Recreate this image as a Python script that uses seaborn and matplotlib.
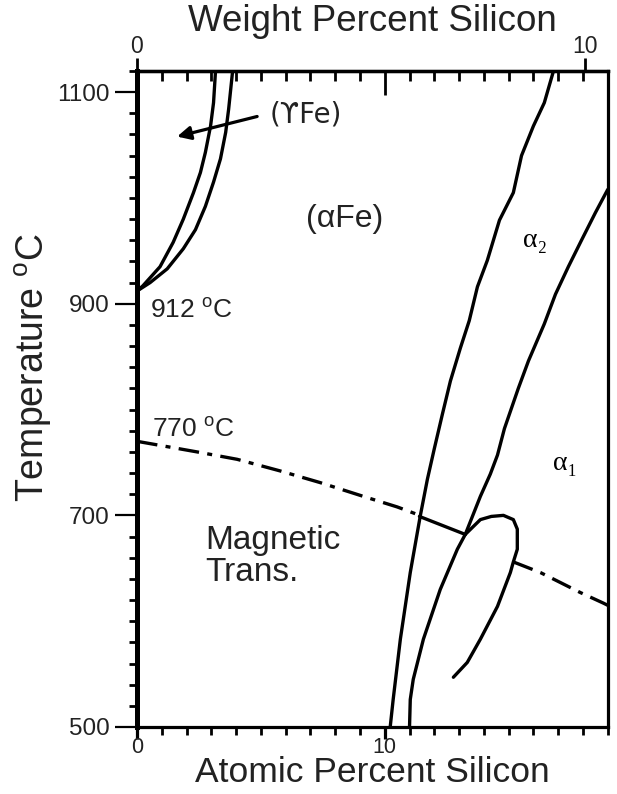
import numpy as np
import matplotlib
matplotlib.use("Agg")
import matplotlib.pyplot as plt
import seaborn as sns
from matplotlib.ticker import MultipleLocator, NullLocator

# ---------------- data (atomic % Si, temperature degC) ----------------
gamma_inner_x = [0, 0.24, 0.93, 1.46, 1.87, 2.28, 2.56, 2.76, 2.97, 3.09, 3.17]
gamma_inner_T = [912, 917, 935, 958, 980, 1005, 1024, 1043, 1068, 1090, 1120]

gamma_outer_x = [0, 0.53, 1.22, 1.87, 2.36, 2.76, 3.09, 3.37, 3.58, 3.70, 3.86]
gamma_outer_T = [912, 920, 933, 952, 970, 992, 1015, 1037, 1062, 1084, 1120]

order_left_x = [16.81, 16.44, 16.0, 15.52, 15.19, 14.63, 14.14, 13.74, 13.41, 13.05,
                12.65, 12.32, 12.0, 11.72, 11.43, 11.03, 10.63, 10.34, 10.22]
order_left_T = [1120, 1090, 1068, 1040, 1005, 979, 941, 916, 884, 858,
                827, 795, 763, 734, 699, 646, 583, 526, 500]

order_right_x = [19.0, 18.5, 17.94, 17.41, 16.89, 16.44, 15.8, 15.39, 14.83, 14.55,
                 14.26, 13.86, 13.25, 12.93, 12.24, 11.56, 11.15, 11.03, 11.0]
order_right_T = [1008, 986, 960, 935, 909, 881, 846, 820, 782, 757,
                 739, 718, 682, 668, 630, 583, 545, 526, 500]

loop_x = [13.25, 13.86, 14.3, 14.79, 15.19, 15.35, 15.35, 15.19, 15.07, 14.55, 13.86, 13.33, 12.77]
loop_T = [682, 696, 699, 700, 696, 687, 668, 656, 646, 614, 583, 561, 547]

mag_left_x = [0, 2.42, 4.04, 5.78, 7.39, 9.13, 10.5, 11.3]
mag_left_T = [770, 760, 753, 742, 731, 718, 708, 701]

mag_tie_x = [11.4, 13.25]
mag_tie_T = [699, 682]

mag_right_x = [15.19, 16.28, 17.9, 18.83, 19.0]
mag_right_T = [656, 646, 627, 617, 615]

bottom_ticks = [0, 10]
top_ticks_wt = [0, 10]
temp_ticks = [500, 700, 900, 1100]

# ---------------- style ----------------
sns.set_theme(style="white")
plt.rcParams["font.family"] = ["Liberation Sans", "DejaVu Sans"]
plt.rcParams["mathtext.fontset"] = "custom"
plt.rcParams["mathtext.rm"] = "Liberation Sans"
plt.rcParams["mathtext.it"] = "Liberation Sans:italic"

TXT = "#222222"

fig = plt.figure(figsize=(6.17, 7.94), dpi=100)
ax = fig.add_axes([0.222, 0.0844, 0.763, 0.8262])

LW = 2.4


def draw(x, T, **kw):
    sns.lineplot(x=x, y=T, sort=False, estimator=None, ax=ax,
                 color="black", linewidth=LW, **kw)


draw(gamma_inner_x, gamma_inner_T)
draw(gamma_outer_x, gamma_outer_T)
draw(order_left_x, order_left_T)
draw(order_right_x, order_right_T)
draw(loop_x, loop_T)
draw(mag_tie_x, mag_tie_T)
dashdot = (0, (6.2, 2.5, 1.5, 2.5))
draw(mag_left_x, mag_left_T, linestyle=dashdot)
draw(mag_right_x, mag_right_T, linestyle=dashdot)

ax.set_xlim(0, 19)
ax.set_ylim(500, 1120)

# bottom axis (atomic %)
ax.set_xticks(bottom_ticks)
ax.xaxis.set_minor_locator(MultipleLocator(1))
ax.tick_params(axis="x", which="major", direction="out", length=8.5, width=2.3,
               labelsize=15.5, labelcolor=TXT, pad=-1.5, bottom=True, color="black")
ax.tick_params(axis="x", which="minor", direction="out", length=5.5, width=2,
               bottom=True, color="black")

# left axis
ax.set_yticks(temp_ticks)
ax.yaxis.set_minor_locator(MultipleLocator(20))
ax.tick_params(axis="y", which="major", direction="out", length=16, width=1.6,
               labelsize=17.5, labelcolor=TXT, pad=3.5, left=True, color="black")
ax.tick_params(axis="y", which="minor", direction="out", length=5.5, width=2,
               left=True, color="black")

for name, sp in ax.spines.items():
    sp.set_color("black")
    sp.set_linewidth(2.3)
ax.spines["left"].set_linewidth(3.6)


# top axis (weight %)
M_SI, M_FE = 28.0855, 55.845


def at2wt(a):
    a = np.asarray(a, dtype=float)
    with np.errstate(divide="ignore", invalid="ignore"):
        return 100 * a * M_SI / (a * M_SI + (100 - a) * M_FE)


def wt2at(w):
    w = np.asarray(w, dtype=float)
    with np.errstate(divide="ignore", invalid="ignore"):
        return 100 * (w / M_SI) / (w / M_SI + (100 - w) / M_FE)


sec_at = ax.secondary_xaxis("top")
sec_at.set_xticks([10])
sec_at.xaxis.set_minor_locator(MultipleLocator(1))
sec_at.tick_params(which="major", direction="in", length=17, width=2, labeltop=False,
                   color="black")
sec_at.tick_params(which="minor", direction="in", length=7, width=2, color="black")
sec_at.spines["top"].set_linewidth(2.3)
sec_at.spines["top"].set_color("black")

sec_wt = ax.secondary_xaxis("top", functions=(at2wt, wt2at))
sec_wt.set_xticks(top_ticks_wt)
sec_wt.xaxis.set_minor_locator(NullLocator())
sec_wt.tick_params(which="major", direction="out", length=9.5, width=2,
                   labelsize=16.5, labelcolor=TXT, pad=0, color="black")
sec_wt.spines["top"].set_linewidth(2.3)
sec_wt.spines["top"].set_color("black")
sec_wt.set_xlabel("Weight Percent Silicon", fontsize=26.5, color=TXT, labelpad=3)

ax.set_xlabel("Atomic Percent Silicon", fontsize=25.5, color=TXT, labelpad=-1.5)
ax.set_ylabel("Temperature $^{\\rm o}$C", fontsize=27, color=TXT)
ax.yaxis.set_label_coords(-0.176, 0.547)

# annotations
ax.text(6.83, 1079, "(ϒFe)", fontsize=20, color=TXT, ha="center", va="center",
        family=["DejaVu Sans"])
ax.text(8.4, 980, "(αFe)", fontsize=23, color=TXT, ha="center", va="center")
ax.text(0.53, 893, "912 $^{\\rm o}$C", fontsize=19, color=TXT, ha="left", va="center")
ax.text(0.6, 781, "770 $^{\\rm o}$C", fontsize=19, color=TXT, ha="left", va="center")
ax.text(2.75, 661, "Magnetic\nTrans.", fontsize=24, color=TXT, ha="left", va="center",
        linespacing=1.05)
ax.text(15.56, 960, "α₂", fontsize=20, color="black", ha="left", va="center",
        family=["Liberation Serif", "DejaVu Serif"])
ax.text(16.8, 749, "α₁", fontsize=20, color="black", ha="left", va="center",
        family=["Liberation Serif", "DejaVu Serif"])

ax.annotate("", xy=(1.62, 1058), xytext=(4.85, 1077),
            arrowprops=dict(arrowstyle="-|>", lw=2.3, color="black",
                            mutation_scale=20, shrinkA=0, shrinkB=0))

fig.savefig("out.png", dpi=100)
